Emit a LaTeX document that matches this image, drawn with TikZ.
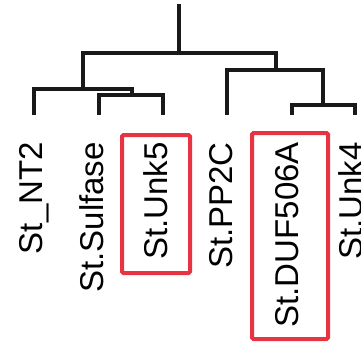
\documentclass[tikz,border=0pt]{standalone}
\usepackage{fontspec}
\setmainfont{Liberation Sans}
\definecolor{hl}{RGB}{232,52,66}
\begin{document}
\begin{tikzpicture}[x=1pt,y=-1pt,
  branch/.style={line width=3.2pt,black!90,line cap=rect},
  leaf/.style={rotate=90,anchor=base east,inner sep=0pt,font=\fontsize{33}{33}\selectfont},
  hlbox/.style={draw=hl,line width=4pt,rounded corners=1.5pt}]
\useasboundingbox (0,0) rectangle (361,345);
% coordinates of the tree
\coordinate (top) at (179,6);
\coordinate (r) at (179,53);
\coordinate (rl) at (83,53);
\coordinate (rr) at (276,53);
\coordinate (a) at (83,89);
\coordinate (al) at (34,89);
\coordinate (ar) at (132,89);
\coordinate (b) at (132,95);
\coordinate (bl) at (99,95);
\coordinate (br) at (163,95);
\coordinate (c) at (276,70);
\coordinate (cl) at (227,70);
\coordinate (cr) at (323,70);
\coordinate (d) at (323,105);
\coordinate (dl) at (292,105);
\coordinate (dr) at (355,105);
\coordinate (t1) at (34,113);
\coordinate (t2) at (99,113);
\coordinate (t3) at (163,113);
\coordinate (t4) at (227,113);
\coordinate (t5) at (292,113);
\coordinate (t6) at (355,113);
\draw[branch] (top) -- (r);
\draw[branch] (rl) -- (rr);
\draw[branch] (rl) -- (a);
\draw[branch] (al) -- (ar) -- (b);
\draw[branch] (bl) -- (br);
\draw[branch] (al) -- (t1);
\draw[branch] (bl) -- (t2);
\draw[branch] (br) -- (t3);
\draw[branch] (rr) -- (c);
\draw[branch] (cl) -- (cr);
\draw[branch] (cl) -- (t4);
\draw[branch] (cr) -- (d);
\draw[branch] (dl) -- (dr);
\draw[branch] (dl) -- (t5);
\draw[branch] (dr) -- (t6);
% labels
\node[leaf] (l1) at (42,142) {St\_NT2};
\node[leaf] (l2) at (103,142) {St.Sulfase};
\node[leaf] (l3) at (167,142) {St.Unk5};
\node[leaf] (l4) at (232,142) {St.PP2C};
\node[leaf] (l5) at (298,142) {St.DUF506A};
\node[leaf] (l6) at (362,142) {St.Unk4};
% highlight boxes
\draw[hlbox] (122,135) rectangle (190,273);
\draw[hlbox] (252,133) rectangle (328,339);
\end{tikzpicture}
\end{document}
